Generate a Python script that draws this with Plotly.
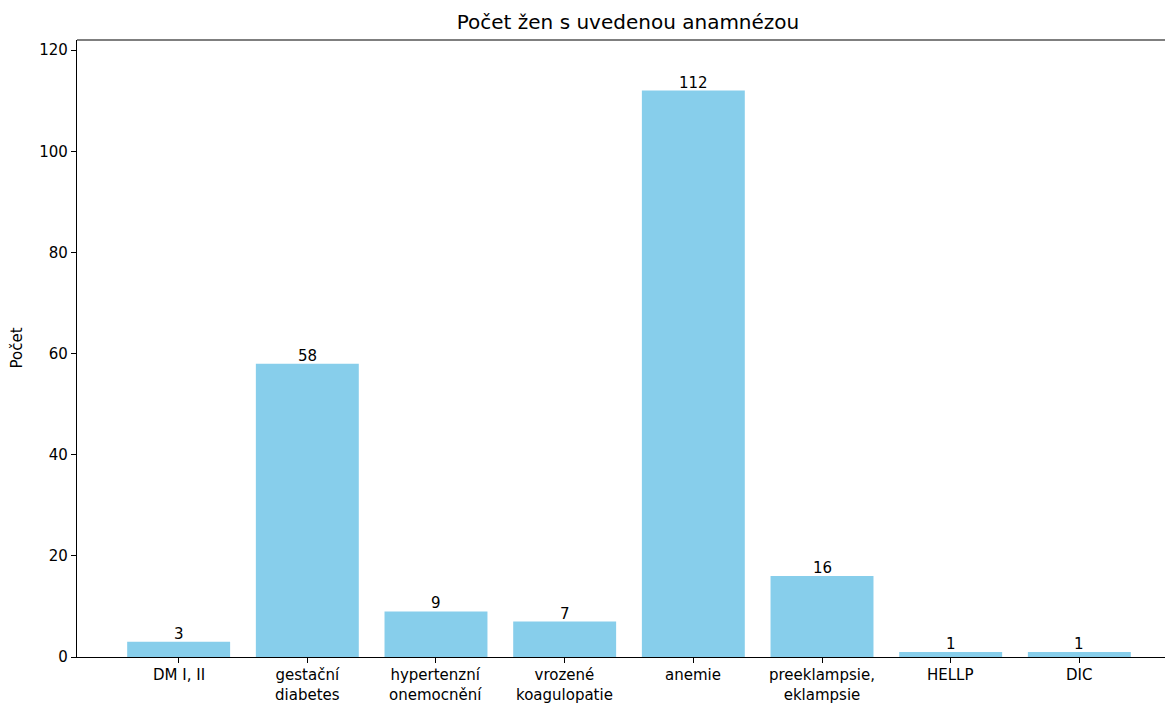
import plotly.graph_objects as go

categories = ["DM I, II", "gestační<br>diabetes", "hypertenzní<br>onemocnění", "vrozené<br>koagulopatie",
              "anemie", "preeklampsie,<br>eklampsie", "HELLP", "DIC"]
counts = [3, 58, 9, 7, 112, 16, 1, 1]
y_ticks = [0, 20, 40, 60, 80, 100, 120]

font = "DejaVu Sans"
xpos = list(range(len(categories)))

# page has 8px body margin, so the figure is shifted by 8px and cropped on the right
W, H = 1173, 695
L, T, B = 69, 32, 46

fig = go.Figure()
fig.add_trace(go.Bar(
    x=xpos, y=counts,
    width=0.8, marker=dict(color="#87CEEB", line=dict(width=0)),
))

fig.update_layout(
    width=W, height=H,
    margin=dict(l=L, r=0, t=T, b=B),
    plot_bgcolor="white", paper_bgcolor="white",
    showlegend=False,
    font=dict(family=font, size=15, color="black"),
    title=dict(text="Počet žen s uvedenou anamnézou", x=(628 - 8) / W, xref="container",
               xanchor="center", y=1 - 14 / H, yanchor="middle",
               font=dict(family=font, size=20, color="black")),
)
fig.update_xaxes(
    range=[-0.79, 7.79], tickmode="array", tickvals=xpos, ticktext=[""] * len(xpos),
    showline=True, linecolor="black", linewidth=1.2, ticks="outside", ticklen=5, tickcolor="black",
    showgrid=False, zeroline=False, automargin=False,
)
fig.update_yaxes(
    range=[0, 122], tickvals=y_ticks, showline=True, linecolor="black", linewidth=1.2,
    ticks="outside", ticklen=5, tickcolor="black", showgrid=False, zeroline=False,
    tickfont=dict(family=font, size=15), automargin=False,
)
# bar value labels, sitting right on top of the bars
for xi, c in zip(xpos, counts):
    fig.add_annotation(x=xi, y=c, xref="x", yref="y", text=str(c), showarrow=False,
                       yanchor="bottom", yshift=-3, font=dict(family=font, size=15, color="black"))
# x tick labels
for xi, lab in zip(xpos, categories):
    fig.add_annotation(x=xi, y=0, xref="x", yref="paper", text=lab, showarrow=False,
                       yanchor="top", yshift=-7, font=dict(family=font, size=15, color="black"))
# y axis title
fig.add_annotation(x=(8 - L) / (W - L), y=0.5, xref="paper", yref="paper", text="Počet", showarrow=False,
                   textangle=-90, xanchor="center", yanchor="middle",
                   font=dict(family=font, size=15, color="black"))
# top spine
fig.add_shape(type="line", xref="paper", yref="paper", x0=0, x1=1, y0=1, y1=1,
              line=dict(color="black", width=1.2))

fig.write_html("out.html")
